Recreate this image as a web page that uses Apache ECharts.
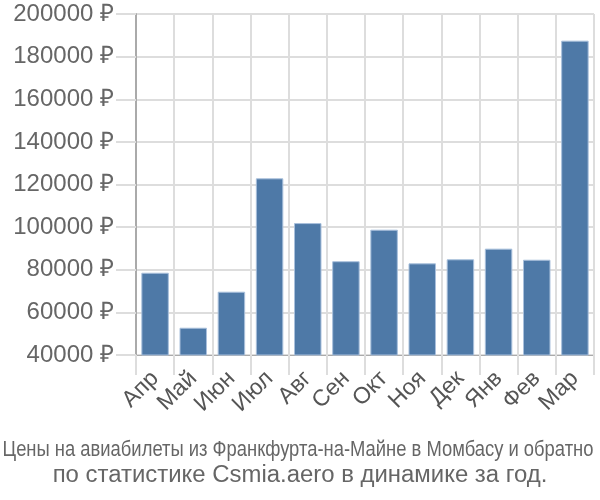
<!DOCTYPE html>
<html><head><meta charset="utf-8">
<script src="https://cdn.jsdelivr.net/npm/echarts@6/dist/echarts.min.js"></script>
<style>html,body{margin:0;padding:0;background:#fff}#c{width:600px;height:500px}</style>
</head><body><div id="c"></div>
<script>
const categories = ['Апр','Май','Июн','Июл','Авг','Сен','Окт','Ноя','Дек','Янв','Фев','Мар'];
const prices = [78600, 52800, 69700, 122900, 101900, 84000, 98800, 83000, 84900, 89900, 84700, 187500];
const titleLine1 = 'Цены на авиабилеты из Франкфурта-на-Майне в Момбасу и обратно';
const titleLine2 = 'по статистике Csmia.aero в динамике за год.';

const chart = echarts.init(document.getElementById('c'));
chart.setOption({
  animation: false,
  graphic: [
    {type: 'text', x: 298, y: 450, scaleX: 0.836, style: {text: titleLine1, fontFamily: 'Liberation Sans', fontSize: 22, fill: '#666', align: 'center', verticalAlign: 'middle'}},
    {type: 'text', x: 300, y: 476, scaleX: 1.04, style: {text: titleLine2, fontFamily: 'Liberation Sans', fontSize: 23, fill: '#666', align: 'center', verticalAlign: 'middle'}}
  ],
  grid: {left: 136, right: 6, top: 14, bottom: 145, containLabel: false},
  xAxis: {
    type: 'category', data: categories,
    axisLine: {lineStyle: {color: '#aaa', width: 1}},
    axisTick: {show: true, length: 20, alignWithLabel: false, lineStyle: {color: '#ddd', width: 2}},
    splitLine: {show: true, lineStyle: {color: '#ddd', width: 2}},
    axisLabel: {rotate: 45, fontFamily: 'Liberation Sans', fontSize: 23, color: '#555', margin: 20, interval: 0}
  },
  yAxis: {
    type: 'value', min: 40000, max: 200000, interval: 20000,
    axisLine: {show: true, lineStyle: {color: '#aaa', width: 2}},
    axisTick: {show: true, length: 20, lineStyle: {color: '#ddd', width: 2}},
    splitLine: {show: true, lineStyle: {color: '#ddd', width: 2}},
    axisLabel: {fontFamily: 'Liberation Sans', fontSize: 24, color: '#666', margin: 22, formatter: v => v + ' ₽'}
  },
  series: [{
    type: 'bar', data: prices, barCategoryGap: '28%',
    itemStyle: {color: '#4e79a7', borderColor: '#a9c0dc', borderWidth: 1}
  }]
});
</script></body></html>
